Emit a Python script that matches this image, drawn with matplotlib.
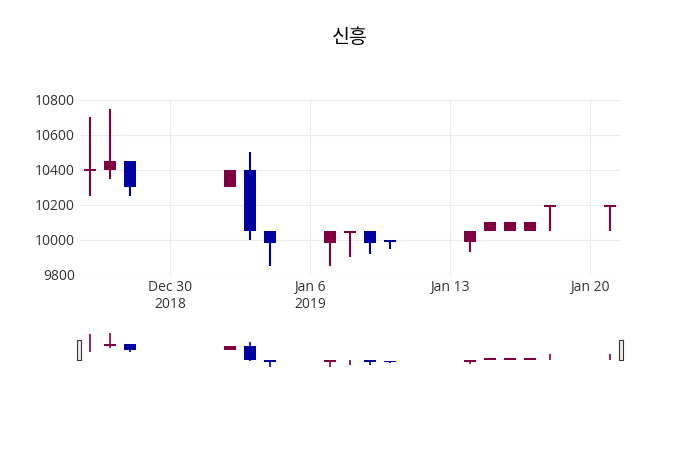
import numpy as np
import pandas as pd
import matplotlib.pyplot as plt
import matplotlib.dates as mdates

dates = pd.to_datetime([
    "2018-12-26", "2018-12-27", "2018-12-28", "2019-01-02", "2019-01-03",
    "2019-01-04", "2019-01-07", "2019-01-08", "2019-01-09", "2019-01-10",
    "2019-01-14", "2019-01-15", "2019-01-16", "2019-01-17", "2019-01-18",
    "2019-01-21",
])
opens = [10400, 10400, 10450, 10300, 10400, 10050, 9980, 10040, 10050, 10000,
         9990, 10050, 10050, 10050, 10190, 10190]
highs = [10700, 10750, 10450, 10400, 10500, 10050, 10050, 10050, 10050, 10000,
         10050, 10100, 10100, 10100, 10200, 10200]
lows = [10250, 10350, 10250, 10300, 10000, 9850, 9850, 9900, 9920, 9950,
        9930, 10050, 10050, 10050, 10050, 10050]
closes = [10400, 10450, 10300, 10400, 10050, 9980, 10050, 10050, 9980, 9990,
          10050, 10100, 10100, 10100, 10200, 10200]

UP = "#800040"
DOWN = "#0000a0"

plt.rcParams["font.family"] = "Open Sans"


def draw_candles(ax, lw=1.5):
    x = mdates.date2num(dates)
    for xi, o, h, l, c in zip(x, opens, highs, lows, closes):
        col = UP if c >= o else DOWN
        ax.vlines(xi, l, h, color=col, lw=lw, zorder=3)
        lo, hi = min(o, c), max(o, c)
        if hi - lo < 8:
            lo, hi = lo - 4, hi + 4
        ax.bar(xi, hi - lo, bottom=lo, width=0.6, color=col, zorder=3)


fig = plt.figure(figsize=(7, 4.5), dpi=100)
xlim = (mdates.date2num(pd.Timestamp("2018-12-25 12:00")),
        mdates.date2num(pd.Timestamp("2019-01-21 12:00")))

ax = fig.add_axes([0.114, 0.389, 0.772, 0.389])
draw_candles(ax)
ax.set_xlim(*xlim)
ax.set_ylim(9800, 10800)
ax.set_yticks(np.arange(9800, 10801, 200))
ax.set_yticklabels([str(v) for v in range(9800, 10801, 200)])
ticks = pd.to_datetime(["2018-12-30", "2019-01-06", "2019-01-13", "2019-01-20"])
ax.set_xticks(mdates.date2num(ticks))
ax.set_xticklabels(["Dec 30\n2018", "Jan 6\n2019", "Jan 13", "Jan 20"])
ax.grid(True, color="#ebebeb", lw=0.8, zorder=0)
for s in ax.spines.values():
    s.set_visible(False)
ax.tick_params(length=0, labelsize=10, colors="#333333")

fig.text(0.5, 0.905, "신흥", ha="center", fontsize=14, family="Noto Sans CJK KR")

sl = fig.add_axes([0.114, 0.178, 0.772, 0.089])
draw_candles(sl, lw=1.2)
sl.set_xlim(*xlim)
sl.set_ylim(9780, 10820)
sl.set_xticks([])
sl.set_yticks([])
for s in sl.spines.values():
    s.set_visible(False)
for xp in (0.110, 0.884):
    fig.patches.append(plt.Rectangle((xp, 0.2), 0.006, 0.045, transform=fig.transFigure,
                                     facecolor="#eeeeee", edgecolor="#333333", lw=0.8))

fig.savefig("out.png", dpi=100)
